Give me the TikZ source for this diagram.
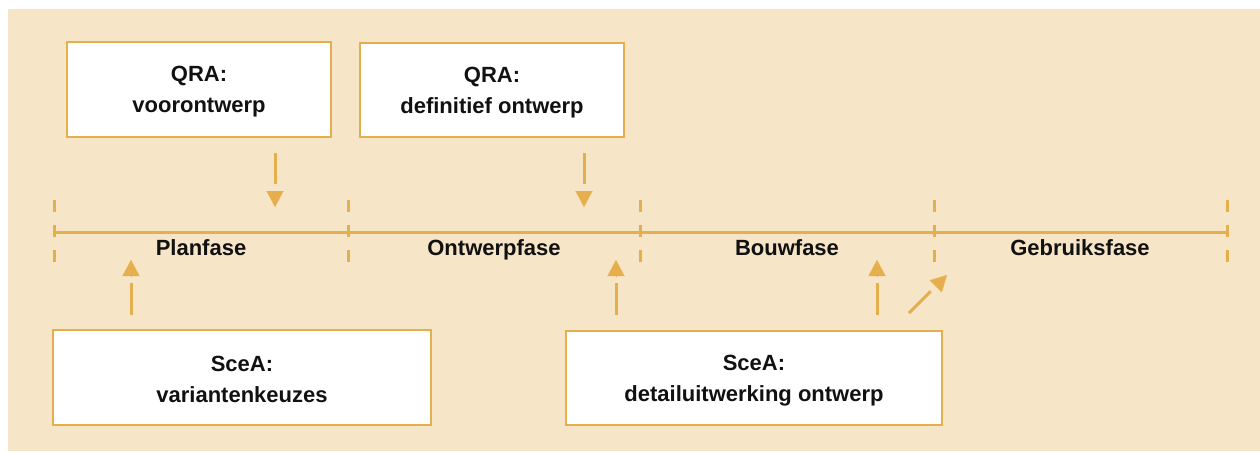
\documentclass[tikz,border=0pt]{standalone}
\usepackage{fontspec}
\setmainfont{Liberation Sans}
\usetikzlibrary{arrows.meta,calc}
\definecolor{bg}{HTML}{F6E5C6}
\definecolor{gold}{HTML}{E6AF4E}
\definecolor{ink}{HTML}{111111}
\newcommand{\upstrut}{\rule{0pt}{10pt}}
\tikzset{
  box/.style={draw=gold, line width=1.4pt, fill=white, align=center, inner sep=0pt,
    font=\fontsize{11pt}{15.5pt}\selectfont\bfseries, text=ink},
  phase/.style={font=\fontsize{11pt}{13pt}\selectfont\bfseries, text=ink, inner sep=0pt, anchor=base},
  tl/.style={gold, line width=1.5pt},
  tick/.style={gold, line width=1.5pt, dash pattern=on 6pt off 6.5pt},
  shaft/.style={gold, line width=1.5pt},
  head/.style={gold, line width=0.1pt, -{Triangle[width=8.5pt,length=8pt]}}
}
\begin{document}
\begin{tikzpicture}[x=0.5pt,y=-0.5pt]
\useasboundingbox (0,0) rectangle (1260,452);
\fill[bg] (8,9) rectangle (1260,451);
% boxes
\node[box, minimum width=132pt, minimum height=47.5pt] (qra1) at (199,89.5) {\upstrut QRA:\\voorontwerp};
\node[box, minimum width=132pt, minimum height=47pt] (qra2) at (492,90) {\upstrut QRA:\\definitief ontwerp};
\node[box, minimum width=189pt, minimum height=47.5pt] (scea1) at (242,377.5) {\upstrut SceA:\\variantenkeuzes};
\node[box, minimum width=188pt, minimum height=47pt] (scea2) at (754,378) {\upstrut SceA:\\detailuitwerking ontwerp};
% timeline ticks
\coordinate (t0) at (54,232);
\coordinate (t1) at (348,232);
\coordinate (t2) at (640,232);
\coordinate (t3) at (934,232);
\coordinate (t4) at (1227,232);
\draw[tl] (t0) -- (t4);
\foreach \t in {t0,t1,t2,t3,t4}{
  \draw[tick] ([yshift=-15pt]\t) -- ([yshift=16.5pt]\t);
}
% phase labels
\node[phase] (p1) at (201,255) {Planfase};
\node[phase] (p2) at (494,255) {Ontwerpfase};
\node[phase] (p3) at (787,255) {Bouwfase};
\node[phase] (p4) at (1080,255) {Gebruiksfase};
% arrows
\coordinate (a1s) at (275,153); \coordinate (a1e) at (275,207);
\coordinate (a2s) at (584,153); \coordinate (a2e) at (584,207);
\coordinate (b1s) at (131,315); \coordinate (b1e) at (131,260);
\coordinate (b2s) at (616,315); \coordinate (b2e) at (616,260);
\coordinate (b3s) at (877,315); \coordinate (b3e) at (877,260);
\coordinate (b4s) at (909,313); \coordinate (b4e) at (947,275);
\foreach \s/\e in {a1s/a1e, a2s/a2e, b1s/b1e, b2s/b2e, b3s/b3e, b4s/b4e}{
  \draw[shaft] (\s) -- ($(\e)!11.5pt!(\s)$);
  \draw[head] ($(\e)!8pt!(\s)$) -- (\e);
}
\end{tikzpicture}
\end{document}
